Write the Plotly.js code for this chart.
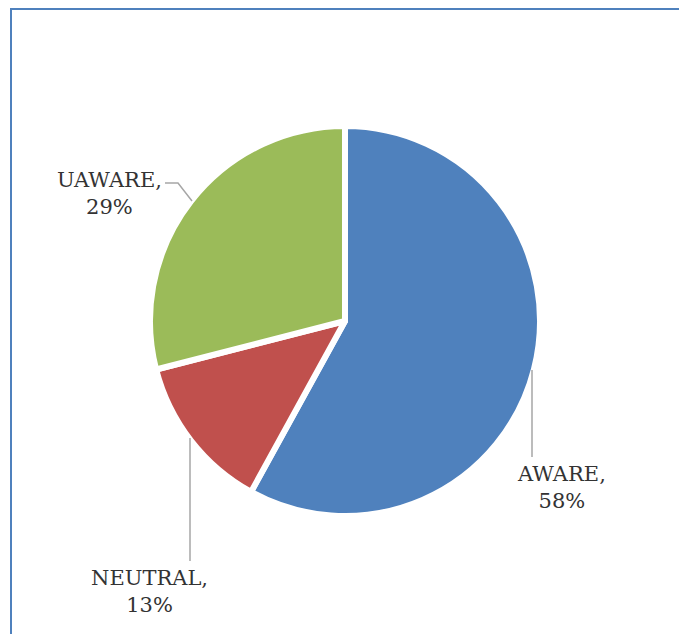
<!DOCTYPE html>
<html>
<head>
<meta charset="utf-8">
<script src="https://cdn.plot.ly/plotly-3.0.1.min.js"></script>
<style>html,body{margin:0;padding:0;background:#fff;}#chart{width:679px;height:634px;}</style>
</head>
<body>
<div id="chart"></div>
<script>
var labels = ["AWARE", "NEUTRAL", "UAWARE"];
var values = [58, 13, 29];
var colors = ["#4F81BD", "#C0504D", "#9BBB59"];

var W = 679, H = 634;
function px(x){ return x / W; }
function py(y){ return 1 - y / H; }

var cx = 345, cy = 321, r = 195;

var trace = {
  type: "pie",
  labels: labels,
  values: values,
  sort: false,
  direction: "clockwise",
  rotation: 0,
  textinfo: "none",
  hoverinfo: "label+percent",
  marker: { colors: colors, line: { color: "#ffffff", width: 6 } },
  domain: { x: [px(cx - r), px(cx + r)], y: [py(cy + r), py(cy - r)] },
  showlegend: false
};

var labelPos = [[561, 487], [149, 591], [109, 193]];
var annotations = labels.map(function(l, i){
  return {
    xref: "paper", yref: "paper",
    x: px(labelPos[i][0]), y: py(labelPos[i][1]),
    xanchor: "center", yanchor: "middle",
    text: l + ",<br>" + values[i] + "%",
    showarrow: false,
    align: "center",
    font: { family: "DejaVu Serif", size: 21, color: "#333333" }
  };
});

var lc = { color: "#A6A6A6", width: 1.5 };
var shapes = [
  { type: "line", xref: "paper", yref: "paper", x0: px(532), y0: py(370), x1: px(532), y1: py(457), line: lc },
  { type: "line", xref: "paper", yref: "paper", x0: px(190), y0: py(438), x1: px(190), y1: py(561), line: lc },
  { type: "path", xref: "paper", yref: "paper",
    path: "M" + px(165) + "," + py(183) + " L" + px(178) + "," + py(183) + " L" + px(192) + "," + py(201), line: lc },
  { type: "line", xref: "paper", yref: "paper", x0: px(10), y0: py(9), x1: 1.01, y1: py(9), line: { color: "#4F81BD", width: 2 } },
  { type: "line", xref: "paper", yref: "paper", x0: px(11), y0: py(9), x1: px(11), y1: -0.01, line: { color: "#4F81BD", width: 2 } }
];

var layout = {
  width: W, height: H,
  margin: { l: 0, r: 0, t: 0, b: 0 },
  paper_bgcolor: "#ffffff",
  plot_bgcolor: "#ffffff",
  showlegend: false,
  annotations: annotations,
  shapes: shapes
};

Plotly.newPlot("chart", [trace], layout, { displayModeBar: false, staticPlot: true });
</script>
</body>
</html>
